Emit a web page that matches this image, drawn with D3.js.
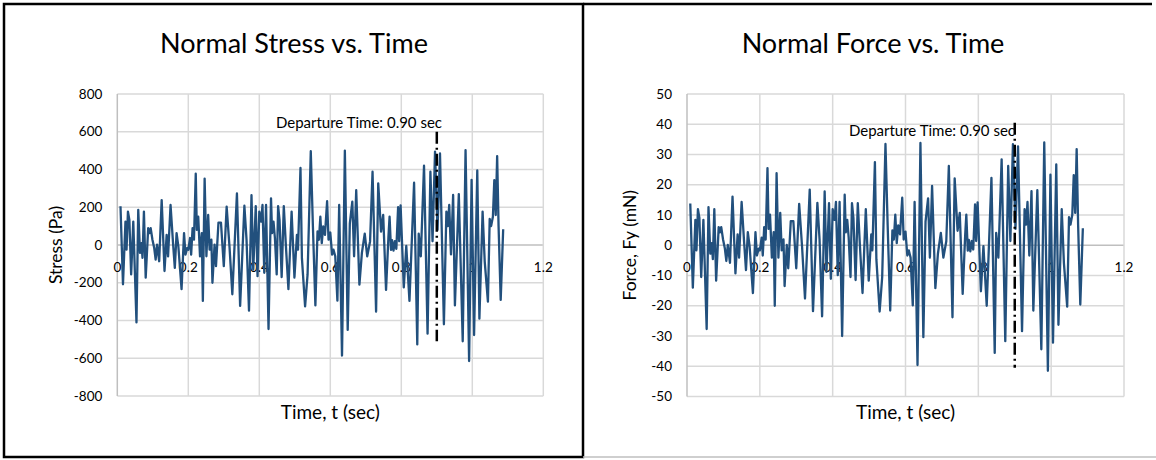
<!DOCTYPE html>
<html><head><meta charset="utf-8">
<script src="https://cdn.jsdelivr.net/npm/d3@7"></script>
<style>
html,body{margin:0;padding:0;background:#fff;}
svg{display:block;}
text{font-family:Lato,"Liberation Sans",sans-serif;fill:#000;}
</style></head><body>
<svg id="c" width="1156" height="460"></svg>
<script>
// ---- data ----
const times = [0.009,0.016,0.023,0.026,0.030,0.034,0.039,0.045,0.054,0.059,0.064,0.068,0.071,0.075,0.080,0.087,0.091,0.094,0.099,0.104,0.108,0.112,0.118,0.125,0.133,0.139,0.143,0.150,0.157,0.162,0.167,0.172,0.181,0.188,0.192,0.197,0.200,0.205,0.208,0.212,0.216,0.221,0.224,0.228,0.233,0.238,0.241,0.246,0.251,0.256,0.260,0.265,0.268,0.274,0.278,0.285,0.292,0.300,0.308,0.316,0.324,0.337,0.346,0.358,0.364,0.371,
0.378,0.383,0.390,0.395,0.400,0.405,0.409,0.414,0.419,0.426,0.433,0.436,0.440,0.444,0.449,0.453,0.457,0.463,0.469,0.475,0.482,0.491,0.499,0.506,0.509,0.516,0.520,0.529,0.536,0.545,0.551,0.558,0.564,0.568,0.572,0.576,0.580,0.585,0.591,0.595,0.600,0.605,0.609,0.614,0.620,0.625,0.633,0.641,0.649,0.655,0.662,0.667,0.673,0.682,0.689,0.697,0.704,0.712,0.719,0.729,
0.735,0.743,0.749,0.757,0.764,0.767,0.771,0.774,0.778,0.782,0.786,0.791,0.794,0.798,0.807,0.814,0.823,0.836,0.845,0.849,0.855,0.864,0.874,0.882,0.888,0.895,0.902,0.909,0.920,0.927,0.931,0.935,0.940,0.946,0.951,0.962,0.973,0.981,0.991,0.998,1.005,1.014,1.020,1.029,1.035,1.044,1.049,1.053,1.058,1.062,1.066,1.070,1.074,1.080,1.087];

const stressPa = [205,-208,124,-25,177,133,-156,124,-410,186,-42,10,-68,177,-173,89,63,89,28,-16,-77,2,-86,238,-138,54,-60,212,10,-121,63,-7,-234,63,-51,-16,-25,37,-51,89,28,378,80,150,-60,63,-296,352,-60,159,-25,28,-200,2,-112,119,119,-112,203,-7,-261,273,-323,208,30,-348,
264,-130,206,-165,177,124,212,-147,212,-445,247,63,124,37,-156,206,133,-170,206,-7,-234,177,-173,54,-25,408,-68,-325,-156,497,98,-320,72,28,150,10,98,54,232,28,66,-51,-25,-60,-295,212,-586,500,-450,115,230,-60,290,-210,-42,60,-60,19,388,-353,
327,71,159,-238,53,150,-26,26,-30,20,-20,200,20,210,-225,-5,-296,330,-527,60,-60,420,-470,388,20,495,80,485,-420,177,100,212,-50,265,-320,270,-510,503,-615,345,-477,395,-390,177,-88,-300,138,100,150,344,159,471,100,-291,83];

const forceMN = [13.8,-14.0,8.4,-1.7,11.9,9.0,-10.5,8.4,-27.7,12.6,-2.8,0.7,-4.6,11.9,-11.7,6.0,4.3,6.0,1.9,-1.1,-5.2,0.1,-5.8,16.1,-9.3,3.6,-4.1,14.3,0.7,-8.2,4.3,-0.5,-15.8,4.3,-3.4,-1.1,-1.7,2.5,-3.4,6.0,1.9,25.5,5.4,10.1,-4.1,4.3,-20.0,23.8,-4.1,10.7,-1.7,1.9,-13.5,0.1,-7.6,8.0,8.0,-7.6,13.7,-0.5,-17.6,18.4,-21.8,14.0,2.0,-23.5,
17.8,-8.8,13.9,-11.1,11.9,8.4,14.3,-9.9,14.3,-30.0,16.7,4.3,8.4,2.5,-10.5,13.9,9.0,-11.5,13.9,-0.5,-15.8,11.9,-11.7,3.6,-1.7,27.5,-4.6,-21.9,-10.5,33.5,6.6,-21.6,4.9,1.9,10.1,0.7,6.6,3.6,15.7,1.9,4.5,-3.4,-1.7,-4.1,-19.9,14.3,-39.6,33.8,-30.4,7.8,15.5,-4.1,19.6,-14.2,-2.8,4.1,-4.1,1.3,26.2,-23.8,
22.1,4.8,10.7,-16.1,3.6,10.1,-1.8,1.8,-2.0,1.4,-1.4,13.5,1.4,14.2,-15.2,-0.3,-20.0,22.3,-35.6,4.1,-4.1,28.4,-31.7,26.2,1.4,33.4,5.4,32.7,-28.4,11.9,6.8,14.3,-3.4,17.9,-21.6,18.2,-34.4,34.0,-41.5,23.3,-32.2,26.7,-26.3,11.9,-5.9,-20.3,9.3,6.8,10.1,23.2,10.7,31.8,6.8,-19.6,5.6];

const timeTicks = [0, 0.2, 0.4, 0.6, 0.8, 1, 1.2];
const stressTicks = [-800, -600, -400, -200, 0, 200, 400, 600, 800];
const forceTicks = [-50, -40, -30, -20, -10, 0, 10, 20, 30, 40, 50];
const departureTime = 0.90;
const departureStressSpan = [600, -510];
const departureForceSpan = [40.5, -40.5];
const departureLabel = "Departure Time: 0.90 sec";
const chartTitles = ["Normal Stress vs. Time", "Normal Force vs. Time"];
const yTitles = ["Stress (Pa)", "Force, Fy (mN)"];
const xTitle = "Time, t (sec)";

// ---- drawing ----
const svg = d3.select("#c");
svg.append("rect").attr("width",1156).attr("height",460).attr("fill","#fff");

// panel frames
svg.append("rect").attr("x",4).attr("y",4).attr("width",579).attr("height",453)
  .attr("fill","none").attr("stroke","#000").attr("stroke-width",2.5);
svg.append("line").attr("x1",583).attr("x2",1152).attr("y1",4).attr("y2",4)
  .attr("stroke","#000").attr("stroke-width",2.5);
svg.append("line").attr("x1",583).attr("x2",1156).attr("y1",457).attr("y2",457)
  .attr("stroke","#bfbfbf").attr("stroke-width",1.5);

const fmt = d => String(d).replace("\u2212","-");

function panel(o){
  const x = d3.scaleLinear().domain([0,1.2]).range([o.x0,o.x1]);
  const y = d3.scaleLinear().domain([o.ticks[0], o.ticks[o.ticks.length-1]]).range([o.y1,o.y0]);
  const g = svg.append("g");

  // gridlines
  g.append("g").selectAll("line").data(o.ticks).join("line")
    .attr("x1",o.x0).attr("x2",o.x1).attr("y1",d=>y(d)).attr("y2",d=>y(d))
    .attr("stroke",d=>d===0?"#bfbfbf":"#d9d9d9").attr("stroke-width",1.5);
  g.append("g").selectAll("line").data(timeTicks).join("line")
    .attr("y1",o.y0).attr("y2",o.y1).attr("x1",d=>x(d)).attr("x2",d=>x(d))
    .attr("stroke",d=>d===0?"#bfbfbf":"#d9d9d9").attr("stroke-width",1.5);

  // y tick labels
  g.append("g").selectAll("text").data(o.ticks).join("text")
    .attr("x",o.x0-15).attr("y",d=>y(d)+4.5).attr("text-anchor","end")
    .style("font-size","13.5px").text(d=>fmt(d));
  // x tick labels along the zero line
  g.append("g").selectAll("text").data(timeTicks).join("text")
    .attr("x",d=>x(d)).attr("y",y(0)+27).attr("text-anchor","middle")
    .style("font-size","13.5px").text(d=>fmt(d));

  // series line
  const line = d3.line().x(d=>x(d[0])).y(d=>y(d[1]));
  g.append("path").datum(times.map((t,i)=>[t,o.values[i]]))
    .attr("d",line).attr("fill","none").attr("stroke","#22507d")
    .attr("stroke-width",2.3).attr("stroke-linejoin","round");

  // departure marker
  g.append("line").attr("x1",x(departureTime)).attr("x2",x(departureTime))
    .attr("y1",y(o.span[0])).attr("y2",y(o.span[1]))
    .attr("stroke","#000").attr("stroke-width",2.5).attr("stroke-dasharray","12,4,2,4");
  g.append("text").attr("x",o.annX).attr("y",o.annY).attr("text-anchor","end")
    .style("font-size","15px").text(departureLabel);

  // titles
  g.append("text").attr("x",o.titleX).attr("y",53).attr("text-anchor","middle")
    .style("font-size","27px").text(o.title);
  g.append("text").attr("x",(o.x0+o.x1)/2).attr("y",419).attr("text-anchor","middle")
    .style("font-size","19px").text(xTitle);
  g.append("text").attr("transform",`translate(${o.yTitleX},${y(0)}) rotate(-90)`)
    .attr("text-anchor","middle").style("font-size","17.5px").text(o.yTitle);
}

panel({x0:117.3,x1:543.3,y0:94,y1:396,ticks:stressTicks,values:stressPa,span:departureStressSpan,
  annX:442,annY:128,title:chartTitles[0],titleX:294,yTitle:yTitles[0],yTitleX:62});
panel({x0:687,x1:1124,y0:94,y1:396.5,ticks:forceTicks,values:forceMN,span:departureForceSpan,
  annX:1015,annY:136,title:chartTitles[1],titleX:873,yTitle:yTitles[1],yTitleX:636});
</script>
</body></html>
